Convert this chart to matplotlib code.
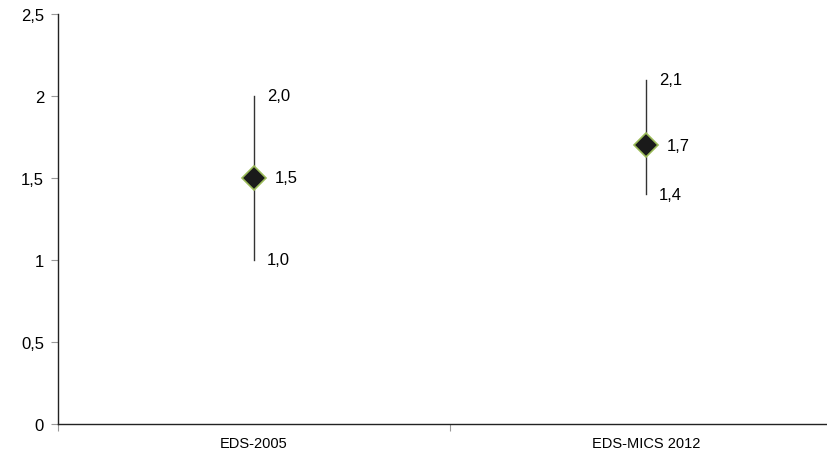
import matplotlib.pyplot as plt

plt.rcParams['font.family'] = ['Liberation Sans', 'DejaVu Sans']

# data
categories = ['EDS-2005', 'EDS-MICS 2012']
estimate = [1.5, 1.7]
lower = [1.0, 1.4]
upper = [2.0, 2.1]


def fmt(v):
    return f"{v:.1f}".replace('.', ',')


fig = plt.figure(figsize=(8.27, 4.56), dpi=100)
ax = fig.add_axes([58 / 827, (456 - 425) / 456, (842 - 58) / 827, 410 / 456])

xpos = [i + 0.5 for i in range(len(categories))]

for x, e, lo, hi in zip(xpos, estimate, lower, upper):
    ax.plot([x, x], [lo, hi], color='#333333', lw=1, zorder=2)
    ax.plot(x, e, marker='D', markersize=12.5, markerfacecolor='#1a1a1a',
            markeredgecolor='#9bbb59', markeredgewidth=1.2, zorder=3)
    ax.annotate(fmt(hi), (x, hi), xytext=(13, 0), textcoords='offset pixels',
                va='center', ha='left', fontsize=12)
    ax.annotate(fmt(lo), (x, lo), xytext=(13, 0), textcoords='offset pixels',
                va='center', ha='left', fontsize=12)
    ax.annotate(fmt(e), (x, e), xytext=(21, 0), textcoords='offset pixels',
                va='center', ha='left', fontsize=12)

ax.set_xlim(0, 2)
ax.set_ylim(0, 2.5)

ax.set_yticks([0, 0.5, 1, 1.5, 2, 2.5])
ax.set_yticklabels(['0', '0,5', '1', '1,5', '2', '2,5'], fontsize=12)

# category boundaries as ticks, names centered
ax.set_xticks([0, 1, 2])
ax.set_xticklabels([])
ax.set_xticks(xpos, minor=True)
ax.set_xticklabels(categories, minor=True, fontsize=10.5,
                   family=['Liberation Sans Narrow', 'Liberation Sans'])
ax.tick_params(axis='x', which='minor', length=0, pad=9)
ax.tick_params(axis='x', which='major', length=5, color='#999999')
ax.tick_params(axis='y', length=5, color='#999999', pad=5)

for s in ['top', 'right']:
    ax.spines[s].set_visible(False)
for s in ['left', 'bottom']:
    ax.spines[s].set_linewidth(1)
    ax.spines[s].set_color('#222222')

fig.savefig('out.png', dpi=100)
